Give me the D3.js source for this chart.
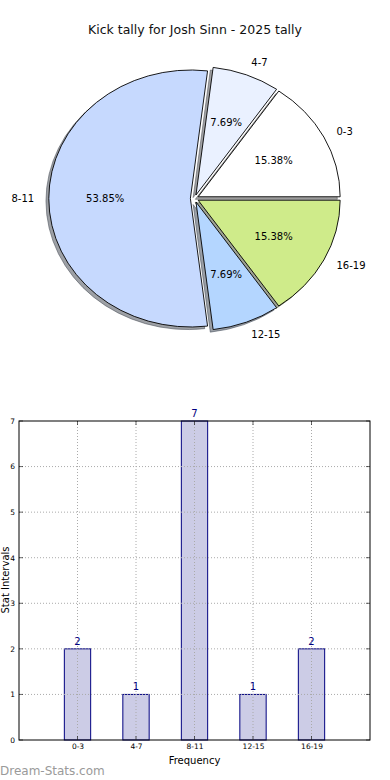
<!DOCTYPE html>
<html><head><meta charset="utf-8">
<script src="https://cdn.jsdelivr.net/npm/d3@7/dist/d3.min.js"></script>
<style>body{margin:0;background:#fff}svg{display:block;font-family:"DejaVu Sans",sans-serif}</style>
</head><body>
<svg id="c" width="390" height="780"></svg>
<script>
const categories = ["0-3","4-7","8-11","12-15","16-19"];
const values = [2,1,7,1,2];
const pieColors = ["#ffffff","#eaf1ff","#c6d9fe","#b4d6ff","#cfeb8a"];
const yTicks = [0,1,2,3,4,5,6,7];
const title = "Kick tally for Josh Sinn - 2025 tally";

const svg = d3.select("#c");

// ---------- Pie ----------
const cx = 194.5, cy = 198.5, rx = 142, ry = 128.5, explode = 0.029;
const total = d3.sum(values);
const pie = d3.pie().sort(null).value(d => d).startAngle(Math.PI/2).endAngle(Math.PI/2 - 2*Math.PI);
const arcs = pie(values);
const arc = d3.arc().innerRadius(0).outerRadius(1);
const gPie = svg.append("g");
function offs(a, k){ return [Math.sin(a)*k*rx, -Math.cos(a)*k*ry]; }
function shade(c){ const r=d3.rgb(c); return `rgba(${Math.round(r.r*0.3)},${Math.round(r.g*0.3)},${Math.round(r.b*0.3)},0.5)`; }
arcs.forEach((d,i)=>{
  const m=(d.startAngle+d.endAngle)/2; const [ox,oy]=offs(m,explode);
  gPie.append("path").attr("d",arc(d))
    .attr("transform",`translate(${cx+ox-0.02*rx},${cy+oy+0.02*ry}) scale(${rx},${ry})`)
    .attr("fill",shade(pieColors[i])).attr("stroke",shade(pieColors[i]))
    .attr("stroke-width",1).attr("vector-effect","non-scaling-stroke");
});
arcs.forEach((d,i)=>{
  const m=(d.startAngle+d.endAngle)/2; const [ox,oy]=offs(m,explode);
  gPie.append("path").attr("d",arc(d))
    .attr("transform",`translate(${cx+ox},${cy+oy}) scale(${rx},${ry})`)
    .attr("fill",pieColors[i]).attr("stroke","#000")
    .attr("stroke-width",0.9).attr("vector-effect","non-scaling-stroke");
  const [lx,ly]=offs(m,explode+1.1);
  gPie.append("text").attr("x",cx+lx).attr("y",cy+ly).attr("dy","0.35em")
    .attr("text-anchor", Math.sin(m)>0.0001?"start":(Math.sin(m)<-0.0001?"end":"middle"))
    .attr("font-size",10).text(categories[i]);
  const [px,py]=offs(m,explode+0.6);
  gPie.append("text").attr("x",cx+px).attr("y",cy+py).attr("dy","0.35em")
    .attr("text-anchor","middle").attr("font-size",10)
    .text((values[i]/total*100).toFixed(2)+"%");
});
svg.append("text").attr("x",195).attr("y",34).attr("text-anchor","middle")
  .attr("font-size",12.5).attr("fill","#111").text(title);

// ---------- Bars ----------
const L=19, R=370, T=421, B=740;
const x = d3.scaleLinear().domain([-1,5]).range([L,R]);
const y = d3.scaleLinear().domain([0,7]).range([B,T]);
const bw = 0.45;
const g = svg.append("g");
g.selectAll("rect.bar").data(values).join("rect")
  .attr("x",(d,i)=>x(i-bw/2)).attr("width",x(bw)-x(0))
  .attr("y",d=>y(d)).attr("height",d=>y(0)-y(d))
  .attr("fill","#ccccE6").attr("stroke","#000080").attr("stroke-width",1);
categories.forEach((c,i)=>{
  g.append("line").attr("x1",x(i)).attr("x2",x(i)).attr("y1",T).attr("y2",B)
    .attr("stroke","#aaa").attr("stroke-width",1).attr("stroke-dasharray","1,2");
});
yTicks.slice(1,-1).forEach(t=>{
  g.append("line").attr("x1",L).attr("x2",R).attr("y1",y(t)).attr("y2",y(t))
    .attr("stroke","#aaa").attr("stroke-width",1).attr("stroke-dasharray","1,2");
});
g.append("rect").attr("x",L).attr("y",T).attr("width",R-L).attr("height",B-T)
  .attr("fill","none").attr("stroke","#000").attr("stroke-width",1);
const tk=4;
yTicks.forEach(t=>{
  g.append("line").attr("x1",L).attr("x2",L+tk).attr("y1",y(t)).attr("y2",y(t)).attr("stroke","#000").attr("stroke-width",0.6);
  g.append("line").attr("x1",R).attr("x2",R-tk).attr("y1",y(t)).attr("y2",y(t)).attr("stroke","#000").attr("stroke-width",0.6);
});
categories.forEach((c,i)=>{
  g.append("line").attr("x1",x(i)).attr("x2",x(i)).attr("y1",B).attr("y2",B-tk).attr("stroke","#000").attr("stroke-width",0.6);
  g.append("line").attr("x1",x(i)).attr("x2",x(i)).attr("y1",T).attr("y2",T+tk).attr("stroke","#000").attr("stroke-width",0.6);
});
const yAxis = d3.axisLeft(y).tickValues(yTicks).tickFormat(d3.format("d")).tickSize(0).tickPadding(4);
const ya = svg.append("g").attr("transform",`translate(${L},0)`).call(yAxis);
ya.select(".domain").remove();
ya.selectAll("text").attr("font-size",7.5).attr("font-family","DejaVu Sans").attr("fill","#000");
const xAxis = d3.axisBottom(x).tickValues(d3.range(categories.length)).tickFormat(i=>categories[i]).tickSize(0).tickPadding(4);
const xa = svg.append("g").attr("transform",`translate(0,${B})`).call(xAxis);
xa.select(".domain").remove();
xa.selectAll("text").attr("font-size",7.5).attr("font-family","DejaVu Sans").attr("fill","#000");
g.selectAll("text.val").data(values).join("text").attr("class","val")
  .attr("x",(d,i)=>x(i)).attr("y",d=>y(d)-4).attr("text-anchor","middle")
  .attr("font-size",10).attr("fill","#000080").text(d=>d);
svg.append("text").attr("x",194.5).attr("y",764).attr("text-anchor","middle").attr("font-size",10).text("Frequency");
svg.append("text").attr("transform","translate(9,580) rotate(-90)").attr("text-anchor","middle").attr("font-size",10).text("Stat Intervals");
svg.append("text").attr("x",0).attr("y",775).attr("font-size",12).attr("fill","#9a9a9a").text("Dream-Stats.com");
</script>
</body></html>
